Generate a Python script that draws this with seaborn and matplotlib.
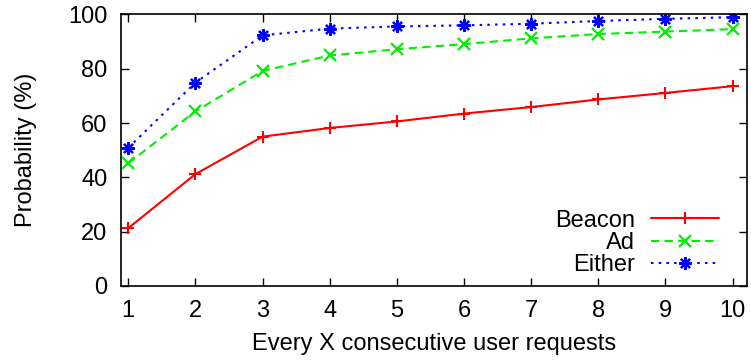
import matplotlib
matplotlib.use("Agg")
import matplotlib.pyplot as plt
import seaborn as sns
import pandas as pd

x_vals = [1, 2, 3, 4, 5, 6, 7, 8, 9, 10]
beacon = [21.3, 41.2, 55.0, 58.2, 60.6, 63.5, 65.9, 68.7, 71.1, 73.6]
ad = [45.2, 64.3, 79.2, 84.9, 87.2, 89.1, 91.2, 92.8, 93.7, 94.6]
either = [50.9, 74.9, 92.3, 94.8, 95.6, 96.0, 96.6, 97.6, 98.4, 99.0]
series_names = ["Beacon", "Ad", "Either"]
y_ticks = [0, 20, 40, 60, 80, 100]

sns.set_style("ticks")
plt.rcParams['font.family'] = ['Liberation Sans', 'DejaVu Sans']
plt.rcParams['text.color'] = 'black'
plt.rcParams['axes.labelcolor'] = 'black'

FS = 17
fig = plt.figure(figsize=(7.51, 3.62), dpi=100)
ax = fig.add_axes([0.1615, 0.21, 0.8328, 0.75])

styles = {
    "Beacon": dict(color="#ff0000", ls="-", marker="+", ms=9, mew=1.5),
    "Ad": dict(color="#00ee00", ls=(0, (4, 2.5)), marker="x", ms=8, mew=1.6),
    "Either": dict(color="#0000ff", ls=(0, (1.2, 2.5)), marker=(8, 2, 0), ms=9, mew=1.6),
}
for name, vals in zip(series_names, [beacon, ad, either]):
    st = styles[name]
    sns.lineplot(x=x_vals, y=vals, ax=ax, label=name, color=st["color"],
                 linestyle=st["ls"], marker=st["marker"], markersize=st["ms"],
                 markeredgewidth=st["mew"], markeredgecolor=st["color"],
                 linewidth=1.5)

ax.set_xlim(0.896, 10.21)
ax.set_ylim(0, 100)
ax.set_xticks(x_vals)
ax.set_yticks(y_ticks)
ax.tick_params(direction="in", length=6, width=1, labelsize=FS, pad=10,
               top=True, right=True, colors="black")
ax.tick_params(axis="x", pad=10)
for sp in ax.spines.values():
    sp.set_visible(True)
    sp.set_linewidth(1.2)
    sp.set_color("black")
ax.set_xlabel("Every X consecutive user requests", fontsize=FS, labelpad=8, color="black")
ax.set_ylabel("Probability (%)", fontsize=FS, labelpad=22, color="black")

leg = ax.legend(loc="lower right", frameon=False, markerfirst=False, fontsize=FS,
                handlelength=2.9, handletextpad=0.65, labelspacing=0.02,
                borderpad=0, borderaxespad=0, numpoints=1,
                bbox_to_anchor=(0.956, 0.035))
for t in leg.get_texts():
    t.set_ha("right")
    t.set_color("black")
leg._legend_box.align = "right"

fig.savefig("out.png", dpi=100)
